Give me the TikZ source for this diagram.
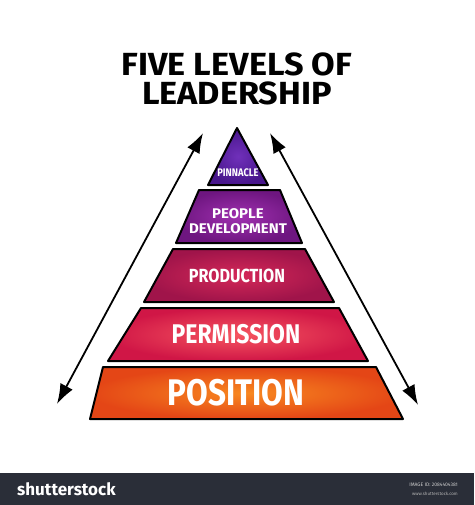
\documentclass[tikz,border=0pt]{standalone}
\usepackage{fontspec}
\setmainfont{Fira Sans}
\newfontfamily\titlefont[FakeStretch=1.07]{Fira Sans}
\newfontfamily\levelfont[FakeStretch=0.85]{Fira Sans}
\usetikzlibrary{arrows.meta}
\definecolor{pinnout}{RGB}{72,22,140}
\definecolor{pinnin}{RGB}{112,48,186}
\definecolor{peopout}{RGB}{110,22,128}
\definecolor{peopin}{RGB}{160,48,176}
\definecolor{prodout}{RGB}{160,20,74}
\definecolor{prodin}{RGB}{212,40,88}
\definecolor{permout}{RGB}{208,22,70}
\definecolor{permin}{RGB}{246,86,96}
\definecolor{posout}{RGB}{228,70,22}
\definecolor{posin}{RGB}{248,136,32}
\definecolor{footerbg}{RGB}{42,46,56}
\tikzset{
    layer/.style = {draw = black, line width = 2pt, line join = round},
    lvl/.style = {text = white, align = center, inner sep = 0pt},
    twoway/.style = {
        {Latex[length = 20pt, width = 14pt]}-{Latex[length = 20pt, width = 14pt]},
        line width = 1.8pt
    }
}
\begin{document}
\begin{tikzpicture}[x = 1pt, y = -1pt]
            \useasboundingbox (0, 0) rectangle (474, 505);
            \node[align = center, inner sep = 0pt,
                font = \titlefont\bfseries\fontsize{32}{29}\selectfont]
                (title) at (237, 79) {FIVE LEVELS OF\\LEADERSHIP};
            \shadedraw[layer, inner color = pinnin, outer color = pinnout]
                (237, 128) -- (268, 185) -- (208, 185) -- cycle;
            \shadedraw[layer, inner color = peopin, outer color = peopout]
                (199, 190) -- (280, 190) -- (302, 243) -- (176, 243) -- cycle;
            \shadedraw[layer, inner color = prodin, outer color = prodout]
                (173, 249) -- (305, 249) -- (334, 302) -- (144, 302) -- cycle;
            \shadedraw[layer, inner color = permin, outer color = permout]
                (141, 308) -- (339, 308) -- (368, 361) -- (108, 361) -- cycle;
            \shadedraw[layer, inner color = posin, outer color = posout]
                (103, 367) -- (376, 367) -- (403, 419) -- (90, 419) -- cycle;
            \path
                (238, 173) node[lvl, font = \levelfont\bfseries\fontsize{11}{11}\selectfont] (pinnacle) {PINNACLE}
                (238, 221) node[lvl, font = \titlefont\bfseries\fontsize{14}{15}\selectfont] (people) {PEOPLE\\DEVELOPMENT}
                (237, 276) node[lvl, font = \levelfont\bfseries\fontsize{19}{19}\selectfont] (production) {PRODUCTION}
                (236, 334) node[lvl, font = \levelfont\bfseries\fontsize{27}{27}\selectfont] (permission) {PERMISSION}
                (236, 393) node[lvl, font = \levelfont\bfseries\fontsize{37}{37}\selectfont] (position) {POSITION}
            ;
            \coordinate (lt) at (203, 133);
            \coordinate (lb) at (57, 404);
            \coordinate (rt) at (270, 133);
            \coordinate (rb) at (418, 405);
            \draw[twoway] (lt) -- (lb);
            \draw[twoway] (rt) -- (rb);
            \fill[footerbg] (0, 473) rectangle (474, 505);
            \path
                (17, 489) node[anchor = west, text = white, inner sep = 0pt,
                    font = \bfseries\fontsize{17}{17}\selectfont] (brand) {shutterstock}
                (458, 485) node[anchor = east, text = white!80!black, inner sep = 0pt,
                    font = \fontsize{5}{5}\selectfont] (imageid) {IMAGE ID: 2084404381}
                (458, 494) node[anchor = east, text = white!70!black, inner sep = 0pt,
                    font = \fontsize{4.5}{4.5}\selectfont] (site) {www.shutterstock.com}
            ;
\end{tikzpicture}
\end{document}
